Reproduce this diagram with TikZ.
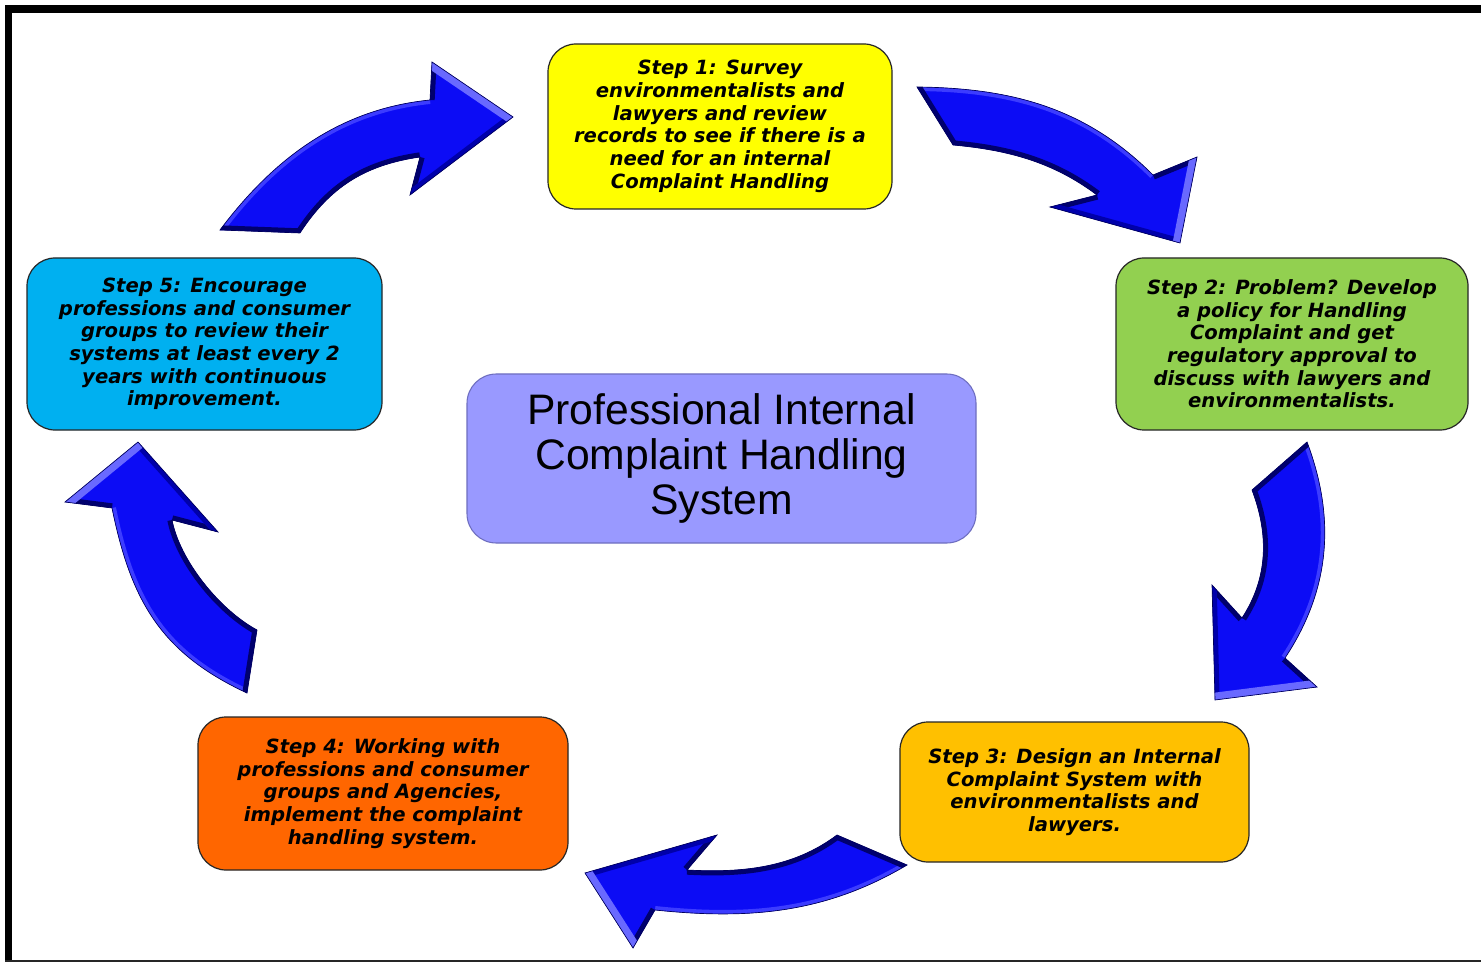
\documentclass[tikz,border=0pt]{standalone}
\usepackage{fontspec}
\newfontfamily\stepfont{DejaVu Sans}
\newfontfamily\centerfont{Liberation Sans}
\definecolor{stepyellow}{HTML}{FFFF00}
\definecolor{stepgreen}{HTML}{92D050}
\definecolor{stepgold}{HTML}{FFC000}
\definecolor{steporange}{HTML}{FF6600}
\definecolor{stepcyan}{HTML}{00B0F0}
\definecolor{centerfill}{HTML}{9999FF}
\definecolor{centerline}{HTML}{6E6EC0}
\definecolor{arrowblue}{RGB}{12,12,245}
\definecolor{rimlight}{RGB}{60,60,255}
\definecolor{rimdark}{RGB}{0,0,110}
\definecolor{rimmid}{RGB}{0,0,170}
\definecolor{facetlight}{RGB}{105,105,255}
\definecolor{arrowedge}{RGB}{0,0,90}
\newcommand\bluearrowpath[1]{(#1tO) .. controls (#1o1) and (#1o2) .. (#1nO) -- (#1bO) -- (#1tip) -- (#1bI) -- (#1nI) .. controls (#1i1) and (#1i2) .. (#1tI) -- cycle}
\newcommand\drawbluearrow[1]{%
  \fill[arrowblue] \bluearrowpath{#1};
  \begin{scope}
    \clip \bluearrowpath{#1};
    \draw[rimlight, line width=6pt] (#1tO) .. controls (#1o1) and (#1o2) .. (#1nO);
    \draw[rimdark, line width=7pt] (#1nI) .. controls (#1i1) and (#1i2) .. (#1tI);
    \draw[rimdark, line width=7pt] (#1tI) -- (#1tO);
    \draw[rimdark, line width=7pt] (#1nO) -- (#1bO);
    \draw[rimdark, line width=7pt] (#1bI) -- (#1nI);
    \draw[rimmid, line width=7pt] (#1tip) -- (#1bI);
    \draw[facetlight, line width=11pt] (#1bO) -- (#1tip);
  \end{scope}
  \draw[arrowedge, line width=0.5pt] \bluearrowpath{#1};
}
\begin{document}
\begin{tikzpicture}[x=0.75pt,y=-0.75pt,
  stepbox/.style={draw=black!85, line width=0.9pt, rounded corners=21pt, inner sep=0pt, align=center,
    font=\stepfont\bfseries\itshape\fontsize{14.7pt}{17pt}\selectfont},
  centerbox/.style={draw=centerline, fill=centerfill, line width=0.8pt, rounded corners=22pt, inner sep=0pt, align=center,
    font=\centerfont\fontsize{32pt}{34pt}\selectfont}]
\useasboundingbox (0,0) rectangle (1481,962);
\fill[white] (0,0) rectangle (1481,962);
% frame
\fill[black] (5,5) rectangle (1481,13);
\fill[black] (5,5) rectangle (12,962);
\fill[black!85] (5,959.5) rectangle (1481,962);

% arrow A (top left, towards step 1)
\coordinate (AtO) at (220,230); \coordinate (Ao1) at (274,158); \coordinate (Ao2) at (340,109);
\coordinate (AnO) at (430,100); \coordinate (AbO) at (432,62); \coordinate (Atip) at (513,117);
\coordinate (AbI) at (410,195); \coordinate (AnI) at (420,157); \coordinate (Ai1) at (365,165);
\coordinate (Ai2) at (330,187); \coordinate (AtI) at (300,233);
\drawbluearrow{A}
% arrow B (top right, towards step 2)
\coordinate (BtO) at (917,87); \coordinate (Bo1) at (1012,88); \coordinate (Bo2) at (1086,108);
\coordinate (BnO) at (1153,175); \coordinate (BbO) at (1197,157); \coordinate (Btip) at (1180,243);
\coordinate (BbI) at (1050,207); \coordinate (BnI) at (1097,195); \coordinate (Bi1) at (1053,162);
\coordinate (Bi2) at (1008,150); \coordinate (BtI) at (953,145);
\drawbluearrow{B}
% arrow C (right, towards step 3)
\coordinate (CtO) at (1307,442); \coordinate (Co1) at (1336,519); \coordinate (Co2) at (1330,590);
\coordinate (CnO) at (1285,658); \coordinate (CbO) at (1317,687); \coordinate (Ctip) at (1215,700);
\coordinate (CbI) at (1212,585); \coordinate (CnI) at (1242,618); \coordinate (Ci1) at (1268,578);
\coordinate (Ci2) at (1269,535); \coordinate (CtI) at (1252,490);
\drawbluearrow{C}
% arrow D (bottom, towards step 4)
\coordinate (DtO) at (907,865); \coordinate (Do1) at (826,913); \coordinate (Do2) at (750,920);
\coordinate (DnO) at (655,910); \coordinate (DbO) at (633,948); \coordinate (Dtip) at (585,873);
\coordinate (DbI) at (717,835); \coordinate (DnI) at (687,870); \coordinate (Di1) at (742,873);
\coordinate (Di2) at (793,868); \coordinate (DtI) at (837,835);
\drawbluearrow{D}
% arrow E (left, towards step 5)
\coordinate (EtO) at (247,693); \coordinate (Eo1) at (161,653); \coordinate (Eo2) at (131,601);
\coordinate (EnO) at (112,508); \coordinate (EbO) at (65,502); \coordinate (Etip) at (138,442);
\coordinate (EbI) at (218,532); \coordinate (EnI) at (172,520); \coordinate (Ei1) at (180,561);
\coordinate (Ei2) at (220,610); \coordinate (EtI) at (257,630);
\drawbluearrow{E}

% boxes
\node[stepbox, fill=stepyellow, minimum width=258pt, minimum height=123.75pt] (s1) at (720,126.5)
  {Step 1: Survey\\environmentalists and\\lawyers and review\\records to see if there is a\\need for an internal\\Complaint Handling};
\node[stepbox, fill=stepgreen, minimum width=264pt, minimum height=129pt] (s2) at (1292,344)
  {Step 2: Problem? Develop\\a policy for Handling\\Complaint and get\\regulatory approval to\\discuss with lawyers and\\environmentalists.};
\node[stepbox, fill=stepgold, minimum width=261.75pt, minimum height=105pt] (s3) at (1074.5,792)
  {Step 3: Design an Internal\\Complaint System with\\environmentalists and\\lawyers.};
\node[stepbox, fill=steporange, minimum width=277.5pt, minimum height=114.75pt] (s4) at (383,793.5)
  {Step 4: Working with\\professions and consumer\\groups and Agencies,\\implement the complaint\\handling system.};
\node[stepbox, fill=stepcyan, minimum width=266.25pt, minimum height=129pt] (s5) at (204.5,344)
  {Step 5: Encourage\\professions and consumer\\groups to review their\\systems at least every 2\\years with continuous\\improvement.};
\node[centerbox, minimum width=381.75pt, minimum height=126.75pt] (c) at (721.5,458.5)
  {Professional Internal\\Complaint Handling\\System};
\end{tikzpicture}
\end{document}
